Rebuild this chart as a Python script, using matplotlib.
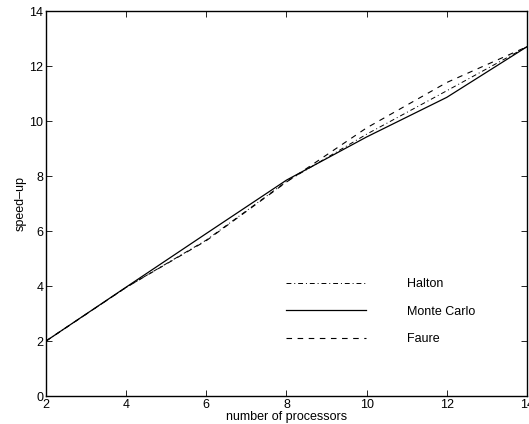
import matplotlib
matplotlib.use("Agg")
import matplotlib.pyplot as plt

processors = [2, 4, 6, 8, 10, 12, 14]
halton = [2.0, 3.95, 5.67, 7.80, 9.52, 11.10, 12.70]
monte_carlo = [2.0, 3.96, 5.91, 7.85, 9.42, 10.86, 12.70]
faure = [2.0, 3.95, 5.65, 7.78, 9.75, 11.40, 12.70]

xticks = [2, 4, 6, 8, 10, 12, 14]
yticks = [0, 2, 4, 6, 8, 10, 12, 14]

plt.rcParams['font.family'] = ['Liberation Sans', 'DejaVu Sans']
fig = plt.figure(figsize=(5.29, 4.24), dpi=100)
ax = fig.add_axes([0.087, 0.066, 0.909, 0.908])

ax.plot(processors, halton, color='black', lw=0.7, linestyle=(0, (5, 3, 1, 3)), label='Halton')
ax.plot(processors, monte_carlo, color='black', lw=0.9, linestyle='-', label='Monte Carlo')
ax.plot(processors, faure, color='black', lw=0.8, linestyle=(0, (5, 5)), label='Faure')

ax.set_xlim(2, 14)
ax.set_ylim(0, 14)
ax.set_xticks(xticks)
ax.set_yticks(yticks)
ax.tick_params(direction='in', top=True, right=True, labelsize=9, length=4, width=0.6, pad=2)
for s in ax.spines.values():
    s.set_linewidth(1.0)
ax.set_xlabel('number of processors', fontsize=9, labelpad=0)
ax.set_ylabel('speed\u2013up', fontsize=9, labelpad=2)

ax.legend(frameon=False, loc='upper left', bbox_to_anchor=(0.499, 0.306), fontsize=9,
          handlelength=6.4, handletextpad=3.3, labelspacing=1.25, borderpad=0, borderaxespad=0)

fig.savefig('out.png', dpi=100)
